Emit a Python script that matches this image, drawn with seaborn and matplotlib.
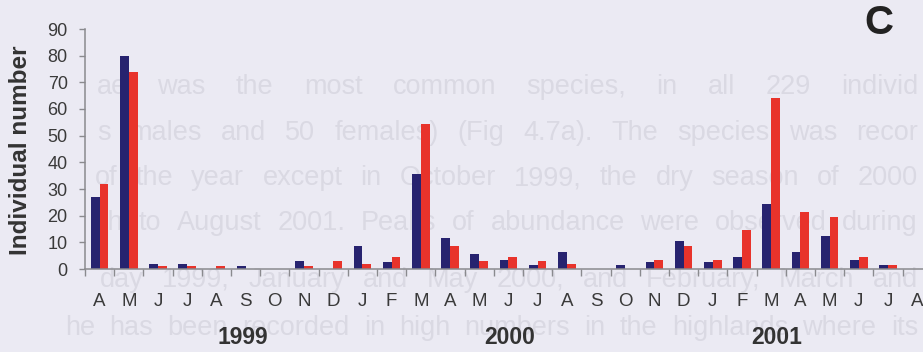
import matplotlib

matplotlib.use("Agg")
import matplotlib.pyplot as plt
import matplotlib.transforms as mtransforms
import numpy as np
import pandas as pd
import seaborn as sns


# monthly samples, April 1999 to August 2001
MONTHS = [
    "A", "M", "J", "J", "A", "S", "O", "N", "D",
    "J", "F", "M", "A", "M", "J", "J", "A", "S", "O", "N", "D",
    "J", "F", "M", "A", "M", "J", "J", "A",
]
YEARS = ["1999", "2000", "2001"]
BLUE_VALUES = [
    27, 80, 2, 2, 0, 1, 0, 3, 0,
    8.5, 2.5, 35.5, 11.5, 5.5, 3.5, 1.5, 6.5, 0, 1.5, 2.5, 10.5,
    2.5, 4.5, 24.5, 6.5, 12.5, 3.5, 1.5, 0,
]
RED_VALUES = [
    32, 74, 1, 1, 1, 0, 0, 1, 3,
    2, 4.5, 54.5, 8.5, 3, 4.5, 3, 2, 0, 0, 3.5, 8.5,
    3.5, 14.5, 64, 21.5, 19.5, 4.5, 1.5, 0,
]
Y_TICKS = [0, 10, 20, 30, 40, 50, 60, 70, 80, 90]
PANEL_LABEL = "C"
Y_LABEL = "Individual number"

# page text showing through the scan (justified lines)
PAGE_LINES = [
    "ae was the most common species, in all 229 individ",
    "s males and 50 females) (Fig 4.7a). The species was recor",
    "of the year except in October 1999, the dry season of 2000",
    "ch to August 2001. Peaks of abundance were observed during",
    "day 1999, January and May 2000, and February, March and",
    "he has been recorded in high numbers in the highlands where its",
]

BG = "#ebeaf3"
BLUE = "#27236f"
RED = "#e8332b"
AXIS = "#8a8a8e"
GHOST = "#dad9e3"

W, H = 923, 352


def build_frame() -> pd.DataFrame:
    n = len(MONTHS)
    return pd.DataFrame(
        {
            "slot": list(range(n)) * 2,
            "value": BLUE_VALUES + RED_VALUES,
            "series": ["blue"] * n + ["red"] * n,
        }
    )


def justify_line(fig, line, x0, x1, y, **kw):
    # spread the words of one line between x0 and x1 (pixels)
    renderer = fig.canvas.get_renderer()
    words = line.split()
    texts = [fig.text(0, 1 - y / H, w, va="center", ha="left", **kw) for w in words]
    widths = [t.get_window_extent(renderer).width for t in texts]
    gap = (x1 - x0 - sum(widths)) / max(len(words) - 1, 1)
    x = x0
    for t, w in zip(texts, widths):
        t.set_x(x / W)
        x += w + gap


def main() -> None:
    sns.set_theme(style="ticks")
    plt.rcParams["font.family"] = ["Liberation Sans", "DejaVu Sans"]

    df = build_frame()
    n = len(MONTHS)

    fig = plt.figure(figsize=(W / 100, H / 100), dpi=100, facecolor=BG)

    line_y = [87, 133, 178, 223, 280, 328]
    line_x = [97, 97, 95, 95, 100, 65]
    for txt, x, y in zip(PAGE_LINES, line_x, line_y):
        justify_line(fig, txt, x, 918, y, fontsize=19.5, color=GHOST, zorder=-5)

    slot_w = 29.2
    ax = fig.add_axes([85 / W, (H - 269) / H, slot_w * n / W, 240 / H])
    ax.patch.set_alpha(0)

    sns.barplot(
        data=df,
        x="slot",
        y="value",
        hue="series",
        order=list(range(n)),
        hue_order=["blue", "red"],
        palette=[BLUE, RED],
        width=0.6,
        saturation=1,
        linewidth=0,
        legend=False,
        ax=ax,
    )

    ax.set_xlim(-0.5, n - 0.5)
    ax.set_ylim(0, 90)
    ax.set_yticks(Y_TICKS)
    ax.set_xticks(np.arange(n), labels=MONTHS)
    ax.set_xticks(np.arange(n + 1) - 0.5, minor=True)
    ax.set_xlabel("")
    ax.set_ylabel("")

    ax.tick_params(axis="x", which="major", length=0, pad=17,
                   labelsize=13.5, labelcolor="#3a3a3a")
    ax.tick_params(axis="x", which="minor", length=5, width=1, color=AXIS)
    ax.tick_params(axis="y", length=4.5, width=1, color=AXIS, pad=8,
                   labelsize=13, labelcolor="#3a3a3a")

    sns.despine(ax=ax)
    for side in ["left", "bottom"]:
        ax.spines[side].set_color(AXIS)
        ax.spines[side].set_linewidth(1.1)

    # year captions under the month rows
    trans = mtransforms.blended_transform_factory(ax.transData, fig.transFigure)
    for year, pos in zip(YEARS, [4.9, 14.05, 23.2]):
        ax.text(pos, 1 - 338 / H, year, transform=trans, ha="center",
                va="center", fontsize=16.5, fontweight="bold", color="#333333")

    fig.text(21 / W, 1 - 150 / H, Y_LABEL, rotation=90, ha="center",
             va="center", fontsize=17.5, fontweight="bold", color="#333333")
    fig.text(879 / W, 1 - 23 / H, PANEL_LABEL, ha="center", va="center",
             fontsize=29, fontweight="bold", color="#222222")

    fig.savefig("out.png", dpi=100, facecolor=BG)
    plt.close(fig)


if __name__ == "__main__":
    main()
